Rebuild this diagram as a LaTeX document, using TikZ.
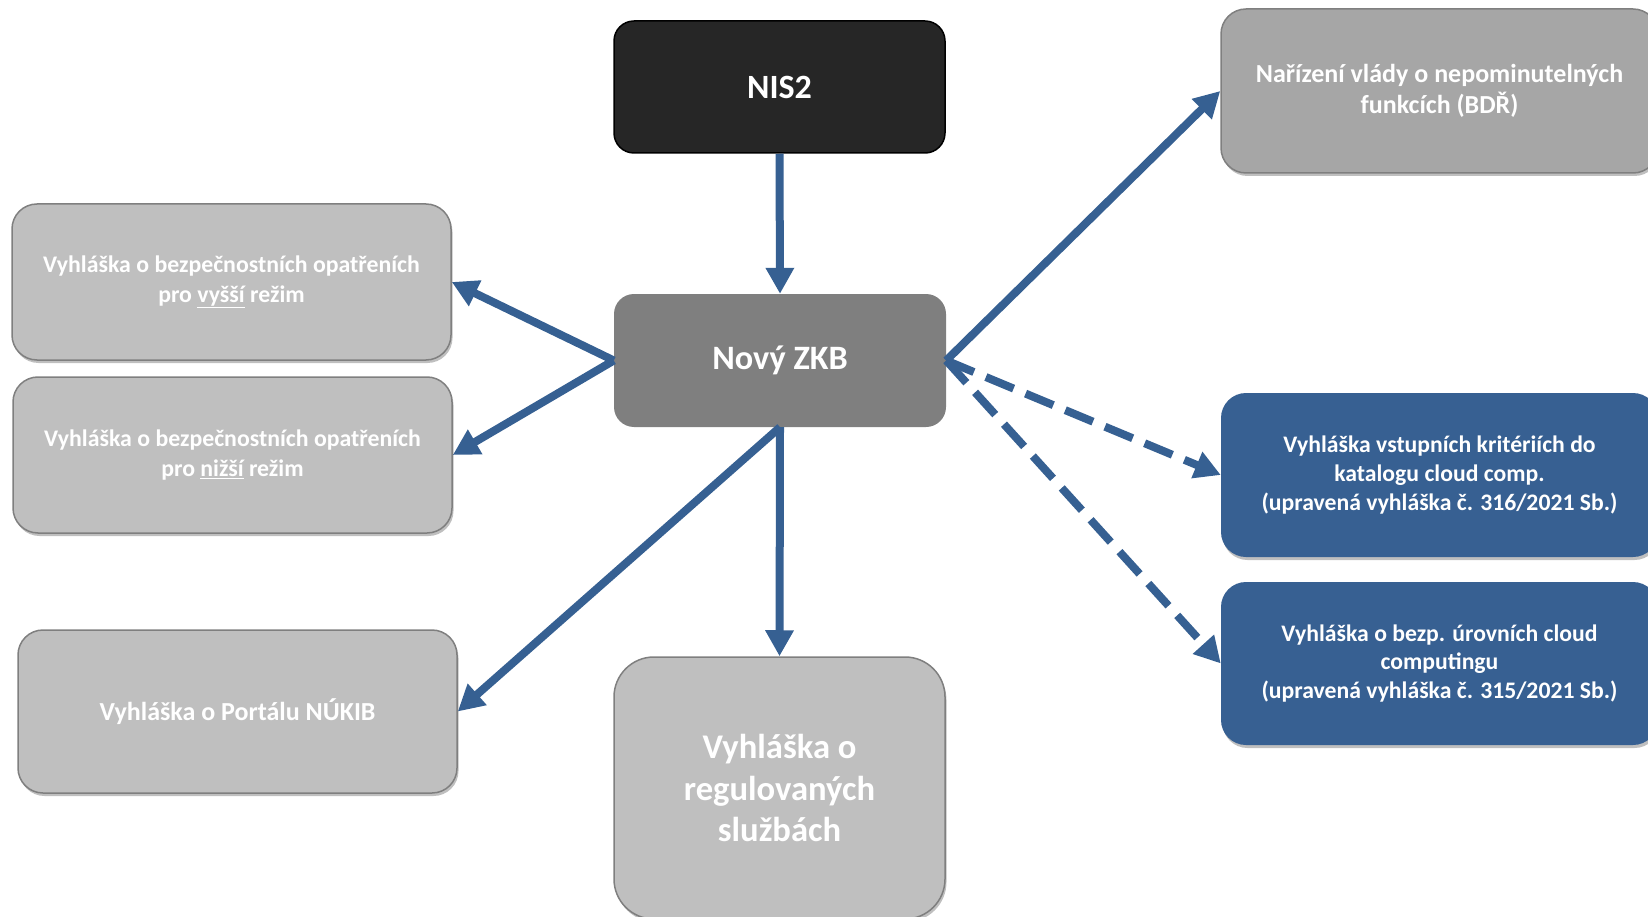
\documentclass[tikz,border=0pt]{standalone}
\usepackage{fontspec}
\setmainfont{Carlito}
\usetikzlibrary{arrows.meta,shadows}
\definecolor{nisblack}{HTML}{262626}
\definecolor{zkbgray}{HTML}{7F7F7F}
\definecolor{lightgray}{HTML}{BFBFBF}
\definecolor{midgray}{HTML}{A6A6A6}
\definecolor{bordergray}{HTML}{7F7F7F}
\definecolor{boxblue}{HTML}{376092}
\definecolor{arrowblue}{HTML}{366092}
\tikzset{
  basebox/.style={text=white, font=\bfseries\fontsize{23.8}{29.5}\selectfont, align=center, inner sep=0pt},
  graybox/.style={basebox, fill=lightgray, draw=bordergray, line width=1.5pt, rounded corners=25pt,
     drop shadow={shadow xshift=1.5pt, shadow yshift=-3pt, opacity=0.25, fill=black}},
  bluebox/.style={basebox, fill=boxblue, draw=none, rounded corners=25pt,
     font=\bfseries\fontsize{23.7}{28.6}\selectfont,
     drop shadow={shadow xshift=1.5pt, shadow yshift=-3pt, opacity=0.25, fill=black}},
  arr/.style={draw=arrowblue, line width=8pt, -{Triangle[length=26pt,width=27pt]}},
  dasharr/.style={arr, dash pattern=on 30pt off 13pt}
}
\begin{document}
\begin{tikzpicture}[x=1pt,y=-1pt]
\useasboundingbox (0,0) rectangle (1648,917);
\clip (0,0) rectangle (1648,917);

\node[basebox, fill=nisblack, draw=black, line width=1.5pt, rounded corners=20pt,
      minimum width=331pt, minimum height=132pt, font=\bfseries\fontsize{34}{40}\selectfont]
      (nis) at (779.5,87) {NIS2};
\node[basebox, fill=zkbgray, rounded corners=20pt,
      minimum width=332pt, minimum height=133pt, font=\bfseries\fontsize{34.2}{40}\selectfont]
      (zkb) at (780,360.5) {Nový ZKB};

\node[graybox, minimum width=439pt, minimum height=156pt] (vyssi) at (231.5,282)
  {Vyhláška o bezpečnostních opatřeních\\pro \underline{vyšší} režim};
\node[graybox, minimum width=439pt, minimum height=156pt] (nizsi) at (232.5,455)
  {Vyhláška o bezpečnostních opatřeních\\pro \underline{nižší} režim};
\node[graybox, minimum width=439pt, minimum height=163pt, font=\bfseries\fontsize{26}{31}\selectfont] (portal) at (237.5,711.5)
  {Vyhláška o Portálu NÚKIB};
\node[graybox, rounded corners=40pt, minimum width=331pt, minimum height=262pt,
      font=\bfseries\fontsize{34.6}{41.5}\selectfont] (regul) at (779.5,788)
  {Vyhláška o\\regulovaných\\službách};

\node[graybox, fill=midgray, drop shadow={opacity=0}, minimum width=437pt, minimum height=164pt,
      font=\bfseries\fontsize{26}{31.5}\selectfont] (bdr) at (1439.5,91)
  {Nařízení vlády o nepominutelných\\funkcích (BDŘ)};
\node[bluebox, minimum width=437pt, minimum height=164pt] (cloud1) at (1439.5,475)
  {Vyhláška vstupních kritériích do\\katalogu cloud comp.\\(upravená vyhláška č. 316/2021 Sb.)};
\node[bluebox, minimum width=437pt, minimum height=163pt] (cloud2) at (1439.5,663.5)
  {Vyhláška o bezp. úrovních cloud\\computingu\\(upravená vyhláška č. 315/2021 Sb.)};

\draw[arr] (nis.south) -- (zkb.north);
\draw[arr] (zkb.west) -- (vyssi.east);
\draw[arr] (zkb.west) -- (nizsi.east);
\draw[arr] (zkb.south) -- (portal.east);
\draw[arr] (zkb.south) -- (regul.north);
\draw[arr] (zkb.east) -- (bdr.west);
\draw[dasharr] (zkb.east) -- (cloud1.west);
\draw[dasharr] (zkb.east) -- (cloud2.west);
\end{tikzpicture}
\end{document}
